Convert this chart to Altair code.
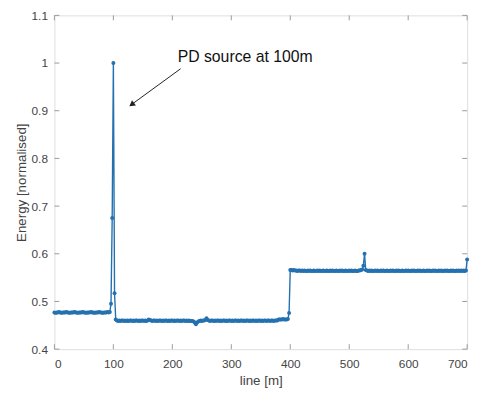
import altair as alt
import pandas as pd

# sample spacing along the line [m]
step_m = 2

# Energy values, one every 2 m from 0 m to 700 m
seg_before = [
    0.477, 0.476, 0.477, 0.477, 0.478, 0.477, 0.476, 0.477, 0.477, 0.477,
    0.478, 0.477, 0.477, 0.476, 0.477, 0.477, 0.477, 0.478, 0.477, 0.477,
    0.476, 0.477, 0.477, 0.477, 0.478, 0.477, 0.477, 0.476, 0.477, 0.477,
    0.477, 0.478, 0.477, 0.477, 0.476, 0.477, 0.477, 0.477, 0.478, 0.477,
    0.477, 0.476, 0.477, 0.477, 0.477, 0.478, 0.477, 0.478,
]
seg_peak = [0.495, 0.675, 1.000, 0.517]
seg_mid = [
    0.462, 0.460, 0.459, 0.460, 0.459, 0.460, 0.460, 0.459, 0.460, 0.459,
    0.460, 0.459, 0.460, 0.460, 0.459, 0.460, 0.459, 0.460, 0.460, 0.459,
    0.460, 0.459, 0.460, 0.460, 0.459, 0.460, 0.459, 0.460, 0.462, 0.461,
    0.460, 0.459, 0.460, 0.460, 0.459, 0.460, 0.459, 0.460, 0.460, 0.459,
    0.460, 0.459, 0.460, 0.460, 0.459, 0.460, 0.459, 0.460, 0.460, 0.459,
    0.460, 0.459, 0.460, 0.460, 0.459, 0.460, 0.459, 0.460, 0.460, 0.459,
    0.460, 0.459, 0.460, 0.459, 0.459, 0.459, 0.458, 0.456, 0.452, 0.456,
    0.458, 0.459, 0.460, 0.459, 0.460, 0.460, 0.461, 0.465, 0.461, 0.460,
    0.459, 0.460, 0.460, 0.459, 0.460, 0.459, 0.460, 0.460, 0.459, 0.460,
    0.459, 0.460, 0.460, 0.459, 0.460, 0.459, 0.460, 0.460, 0.459, 0.460,
    0.459, 0.460, 0.460, 0.459, 0.460, 0.459, 0.460, 0.460, 0.459, 0.460,
    0.459, 0.460, 0.460, 0.459, 0.460, 0.459, 0.460, 0.460, 0.459, 0.460,
    0.459, 0.460, 0.460, 0.459, 0.460, 0.459, 0.460, 0.460, 0.459, 0.460,
    0.460, 0.459, 0.460, 0.460, 0.459, 0.460, 0.460, 0.460, 0.462, 0.462,
    0.462, 0.462, 0.463, 0.462, 0.462, 0.462, 0.463,
]
seg_step = [0.476]
seg_high1 = [
    0.566, 0.566, 0.565, 0.566, 0.565, 0.565, 0.564, 0.565, 0.565, 0.564,
    0.565, 0.564, 0.565, 0.564, 0.564, 0.565, 0.564, 0.565, 0.564, 0.564,
    0.565, 0.564, 0.564, 0.565, 0.564, 0.565, 0.564, 0.564, 0.565, 0.564,
    0.564, 0.565, 0.564, 0.564, 0.565, 0.564, 0.565, 0.564, 0.564, 0.565,
    0.564, 0.564, 0.565, 0.564, 0.565, 0.564, 0.564, 0.565, 0.564, 0.564,
    0.565, 0.564, 0.565, 0.564, 0.564, 0.565, 0.564, 0.564, 0.565, 0.565,
    0.566, 0.567,
]
seg_bump = [0.575, 0.600]
seg_high2 = [
    0.566, 0.565, 0.564, 0.565, 0.564, 0.565, 0.564, 0.564, 0.565, 0.564,
    0.565, 0.564, 0.564, 0.565, 0.564, 0.565, 0.564, 0.564, 0.565, 0.564,
    0.564, 0.565, 0.564, 0.565, 0.564, 0.564, 0.565, 0.564, 0.565, 0.564,
    0.564, 0.565, 0.564, 0.564, 0.565, 0.564, 0.565, 0.564, 0.564, 0.565,
    0.564, 0.565, 0.564, 0.564, 0.565, 0.564, 0.565, 0.564, 0.564, 0.565,
    0.564, 0.564, 0.565, 0.564, 0.565, 0.564, 0.564, 0.565, 0.564, 0.565,
    0.564, 0.564, 0.565, 0.564, 0.565, 0.564, 0.564, 0.565, 0.564, 0.565,
    0.564, 0.564, 0.565, 0.564, 0.565, 0.564, 0.564, 0.565, 0.564, 0.565,
    0.564, 0.565, 0.564, 0.565, 0.564, 0.565,
]
seg_end = [0.588]

energy = seg_before + seg_peak + seg_mid + seg_step + seg_high1 + seg_bump + seg_high2 + seg_end
line_m = [i * step_m for i in range(len(energy))]

x_ticks = [0, 100, 200, 300, 400, 500, 600, 700]
y_ticks = [0.4, 0.5, 0.6, 0.7, 0.8, 0.9, 1.0, 1.1]

annot_text = ["PD source at 100m"]
annot_x = [209]
annot_y = [1.013]
arrow_x = [214, 133]
arrow_y = [0.988, 0.915]
head_x = [131]
head_y = [0.913]

W, H = 418, 338
BLUE = "#2471b0"
AXC = "#9a9a9a"
TXT = "#444444"
FONT = "Liberation Sans"

df = pd.DataFrame({"line": line_m, "energy": energy})
xs = alt.Scale(domain=[0, 700], nice=False, zero=False)
ys = alt.Scale(domain=[0.4, 1.1], nice=False, zero=False)

x_axis = alt.Axis(values=x_ticks, title="line [m]", tickSize=0, labelPadding=10,
                  titlePadding=4, domain=False, grid=False, labelFontSize=12,
                  titleFontSize=13.5, labelColor=TXT, titleColor=TXT,
                  labelFont=FONT, titleFont=FONT, titleFontWeight="normal")
y_axis = alt.Axis(values=y_ticks, title="Energy [normalised]", tickSize=0, labelPadding=7,
                  titlePadding=3, domain=False, grid=False, labelFontSize=12,
                  titleFontSize=13.5, labelColor=TXT, titleColor=TXT,
                  labelFont=FONT, titleFont=FONT, titleFontWeight="normal",
                  labelExpr="datum.value == 1 ? '1' : format(datum.value, '.1f')")


def X(field):
    return alt.X(field, scale=xs, axis=x_axis)


def Y(field):
    return alt.Y(field, scale=ys, axis=y_axis)


line = alt.Chart(df).mark_line(color=BLUE, strokeWidth=1.4).encode(
    x=X("line:Q"), y=Y("energy:Q"))
pts = alt.Chart(df).mark_circle(color=BLUE, size=16, opacity=1).encode(
    x=X("line:Q"), y=Y("energy:Q"))

xt = pd.DataFrame({"line": x_ticks})
yt = pd.DataFrame({"energy": y_ticks})
tb = alt.Chart(xt).mark_rule(color=AXC, strokeWidth=1).encode(
    x=X("line:Q"), y=alt.value(H), y2=alt.value(H - 5))
tt = alt.Chart(xt).mark_rule(color=AXC, strokeWidth=1).encode(
    x=X("line:Q"), y=alt.value(0), y2=alt.value(5))
tl = alt.Chart(yt).mark_rule(color=AXC, strokeWidth=1).encode(
    y=Y("energy:Q"), x=alt.value(0), x2=alt.value(5))
tr = alt.Chart(yt).mark_rule(color=AXC, strokeWidth=1).encode(
    y=Y("energy:Q"), x=alt.value(W), x2=alt.value(W - 5))

txt = alt.Chart(pd.DataFrame({"line": annot_x, "energy": annot_y, "s": annot_text})).mark_text(
    align="left", baseline="middle", fontSize=16, font=FONT, color="#111"
).encode(x=X("line:Q"), y=Y("energy:Q"), text="s:N")

arr = alt.Chart(pd.DataFrame({"line": arrow_x, "energy": arrow_y})).mark_line(
    color="#222", strokeWidth=1).encode(x=X("line:Q"), y=Y("energy:Q"))
head = alt.Chart(pd.DataFrame({"line": head_x, "energy": head_y})).mark_point(
    shape="triangle-up", filled=True, size=45, angle=234, color="#222", opacity=1).encode(
    x=X("line:Q"), y=Y("energy:Q"))

chart = alt.layer(line, pts, tb, tt, tl, tr, arr, head, txt).properties(
    width=W, height=H,
    autosize=alt.AutoSizeParams(type="none"),
    padding={"left": 47, "top": 5, "right": 12, "bottom": 45},
).configure_view(stroke=AXC, strokeWidth=1).configure(background="white")

chart.save("out.html", embed_options={"renderer": "svg", "actions": False})
